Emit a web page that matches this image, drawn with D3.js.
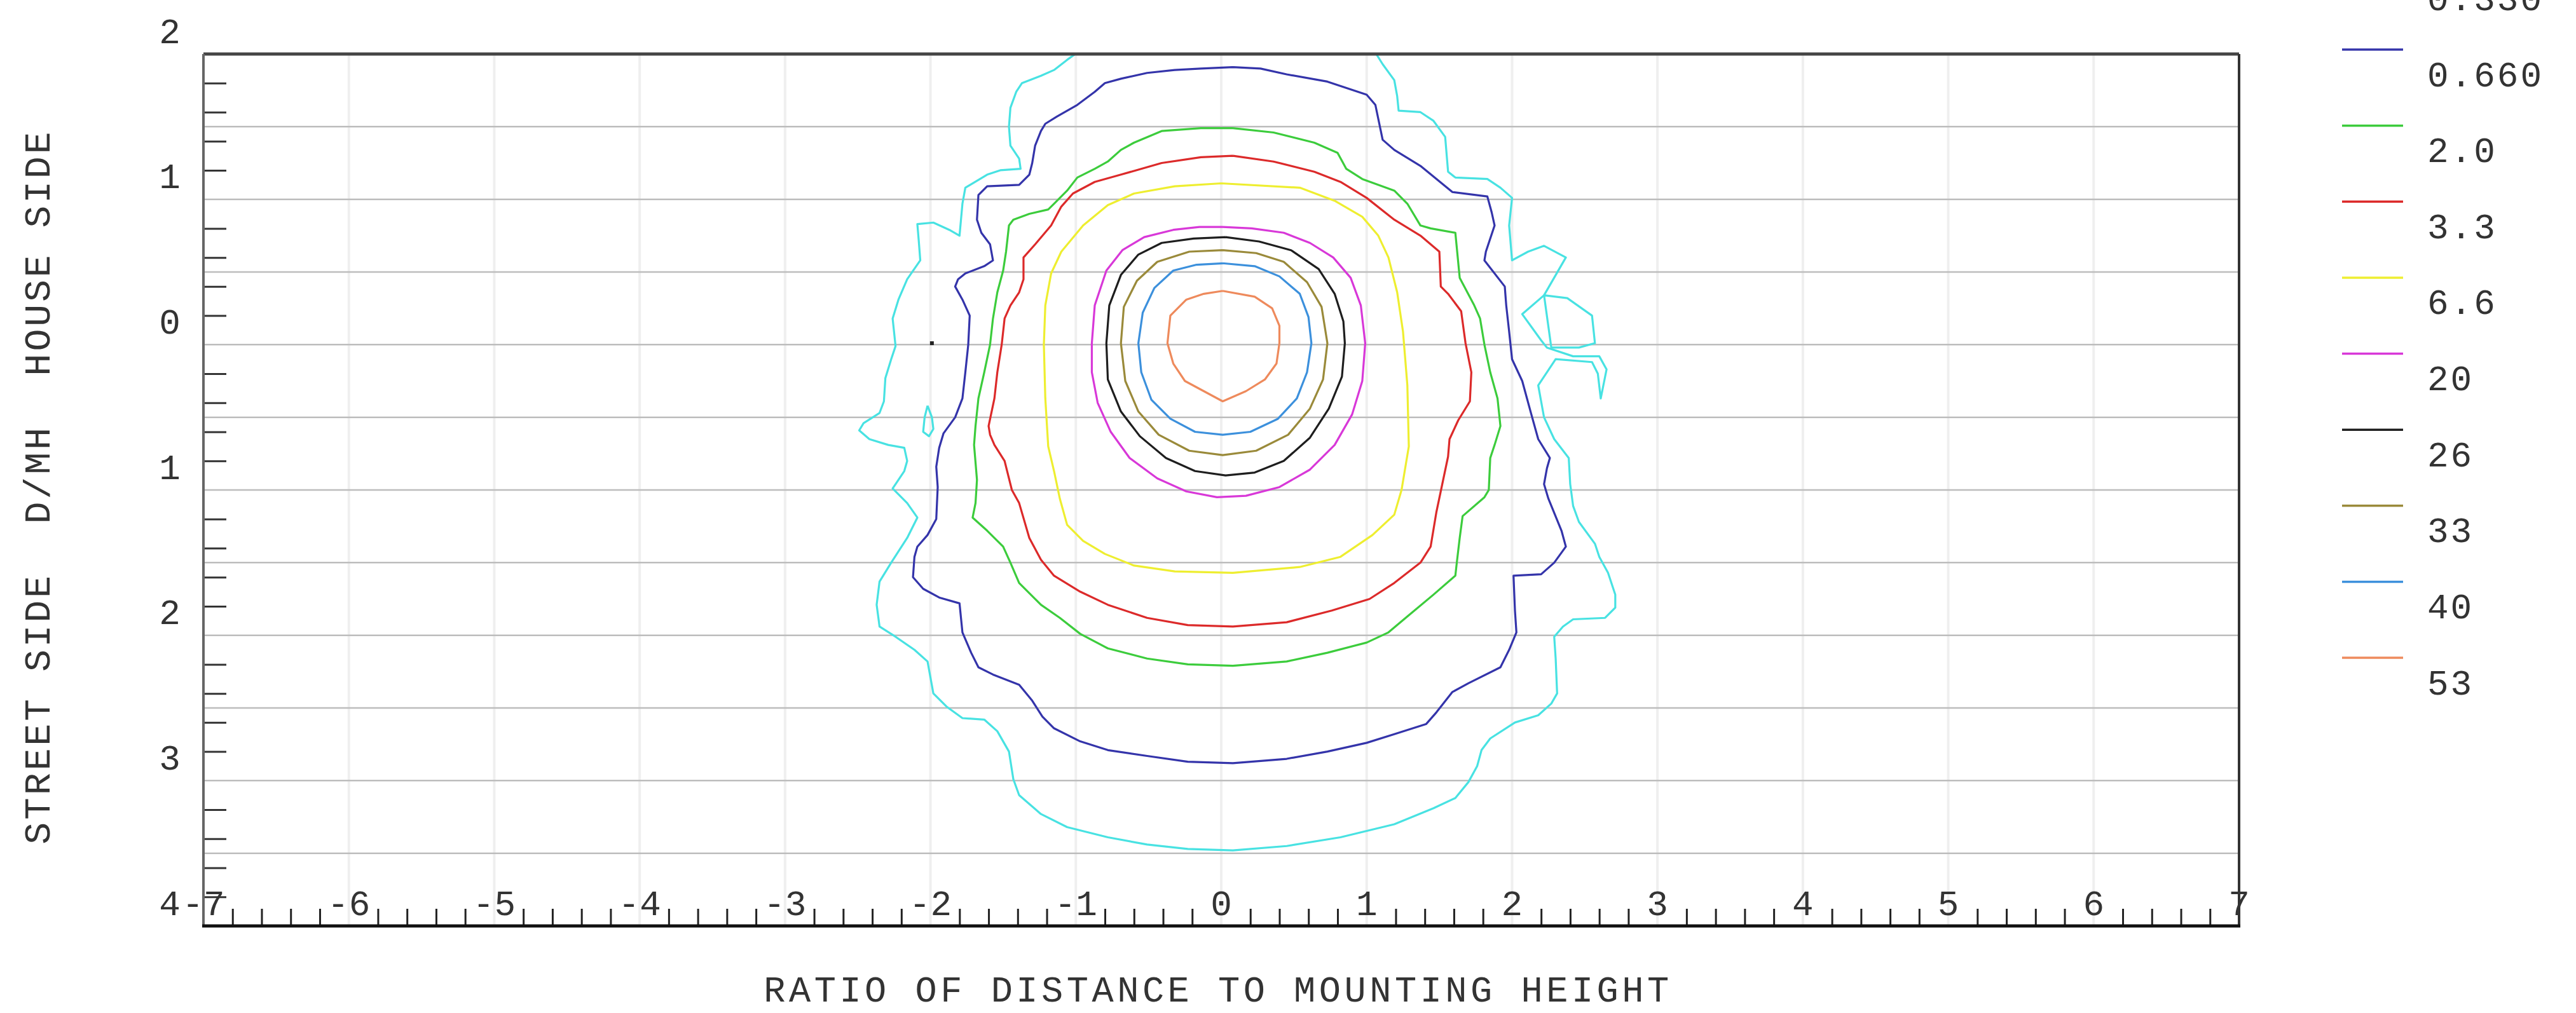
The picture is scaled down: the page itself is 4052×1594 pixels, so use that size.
<!DOCTYPE html>
<html><head><meta charset="utf-8">
<script src="https://cdn.jsdelivr.net/npm/d3@7"></script>
<style>html,body{margin:0;padding:0;background:#fff;overflow:hidden}</style>
</head><body>
<svg id="chart" width="4052" height="1594" xmlns="http://www.w3.org/2000/svg"></svg>
<script>
// ---------- DATA ----------
const levels = ["0.330","0.660","2.0","3.3","6.6","20","26","33","40","53"];
const levelColors = ["#48e2e2","#3434aa","#3ccc3c","#dc2a2a","#eeee30","#d838d8","#1e1e1e","#9a8a3a","#3c90dc","#ee8a5c"];
const xTickValues = [-7,-6,-5,-4,-3,-2,-1,0,1,2,3,4,5,6,7];
const xTickLabels = ["-7","-6","-5","-4","-3","-2","-1","0","1","2","3","4","5","6","7"];
const yTickValues = [2,1,0,-1,-2,-3,-4];
const yTickLabels = ["2","1","0","1","2","3","4"];
const xTitle = "RATIO OF DISTANCE TO MOUNTING HEIGHT";
const yTitle = "STREET SIDE  D/MH  HOUSE SIDE";

// contour polylines, [x, y] in D/MH (y > 0 house side, y < 0 street side)
const c0330 = [[-0.97,2.10],[1.03,2.10],[1.06,2.01],[1.11,1.93],[1.19,1.82],[1.21,1.71],[1.22,1.61],[1.37,1.60],[1.46,1.54],[1.54,1.43],[1.56,1.19],[1.61,1.15],[1.83,1.14],[1.92,1.08],[2.00,1.01],[1.98,0.82],[2.00,0.58],[2.11,0.64],[2.22,0.68],[2.37,0.60],[2.22,0.34],[2.07,0.21],[2.20,0.03],[2.24,-0.02],[2.42,-0.08],[2.60,-0.08],[2.65,-0.17],[2.61,-0.37],[2.59,-0.20],[2.55,-0.12],[2.30,-0.10],[2.18,-0.28],[2.22,-0.50],[2.29,-0.65],[2.39,-0.78],[2.40,-0.96],[2.42,-1.11],[2.46,-1.22],[2.57,-1.37],[2.60,-1.46],[2.66,-1.57],[2.71,-1.72],[2.71,-1.81],[2.64,-1.88],[2.42,-1.89],[2.35,-1.94],[2.29,-2.01],[2.30,-2.16],[2.31,-2.40],[2.27,-2.47],[2.18,-2.55],[2.02,-2.60],[1.85,-2.71],[1.79,-2.79],[1.76,-2.90],[1.70,-3.01],[1.61,-3.12],[1.46,-3.19],[1.19,-3.30],[0.82,-3.39],[0.45,-3.45],[0.08,-3.48],[-0.23,-3.47],[-0.51,-3.44],[-0.78,-3.39],[-1.06,-3.32],[-1.24,-3.23],[-1.39,-3.10],[-1.43,-2.99],[-1.46,-2.80],[-1.54,-2.66],[-1.63,-2.58],[-1.78,-2.57],[-1.89,-2.49],[-1.98,-2.40],[-2.00,-2.29],[-2.02,-2.18],[-2.11,-2.10],[-2.24,-2.01],[-2.35,-1.94],[-2.37,-1.79],[-2.35,-1.63],[-2.27,-1.50],[-2.16,-1.33],[-2.09,-1.19],[-2.16,-1.09],[-2.26,-0.99],[-2.18,-0.87],[-2.16,-0.80],[-2.18,-0.71],[-2.29,-0.69],[-2.42,-0.65],[-2.49,-0.59],[-2.46,-0.54],[-2.35,-0.47],[-2.32,-0.39],[-2.31,-0.23],[-2.27,-0.10],[-2.24,-0.01],[-2.26,0.18],[-2.22,0.31],[-2.16,0.45],[-2.07,0.58],[-2.08,0.71],[-2.09,0.83],[-1.98,0.84],[-1.87,0.79],[-1.80,0.75],[-1.78,0.97],[-1.76,1.08],[-1.61,1.17],[-1.52,1.20],[-1.38,1.21],[-1.39,1.28],[-1.45,1.37],[-1.46,1.50],[-1.45,1.63],[-1.41,1.74],[-1.37,1.80],[-1.24,1.85],[-1.15,1.89],[-1.06,1.96],[-0.99,2.01],[-0.97,2.10]];
const c0330loop = [[2.22,0.34],[2.38,0.32],[2.55,0.20],[2.57,0.01],[2.46,-0.02],[2.27,-0.02]];
const c0330island = [[-2.02,-0.42],[-1.99,-0.50],[-1.98,-0.58],[-2.01,-0.63],[-2.05,-0.60],[-2.04,-0.50],[-2.02,-0.42]];
const c0660 = [[0.08,1.91],[0.27,1.90],[0.45,1.86],[0.73,1.81],[1.00,1.72],[1.06,1.65],[1.11,1.41],[1.19,1.34],[1.37,1.23],[1.59,1.05],[1.83,1.02],[1.86,0.91],[1.88,0.82],[1.82,0.64],[1.81,0.58],[1.95,0.40],[1.96,0.27],[1.98,0.09],[2.00,-0.10],[2.07,-0.25],[2.13,-0.47],[2.18,-0.65],[2.26,-0.78],[2.24,-0.85],[2.22,-0.96],[2.25,-1.06],[2.34,-1.28],[2.37,-1.39],[2.29,-1.50],[2.20,-1.58],[2.01,-1.59],[2.02,-1.83],[2.03,-1.98],[1.98,-2.10],[1.92,-2.22],[1.70,-2.33],[1.59,-2.39],[1.48,-2.53],[1.41,-2.61],[1.19,-2.68],[1.00,-2.74],[0.73,-2.80],[0.45,-2.85],[0.08,-2.88],[-0.23,-2.87],[-0.51,-2.83],[-0.78,-2.79],[-0.97,-2.73],[-1.15,-2.64],[-1.23,-2.56],[-1.30,-2.45],[-1.39,-2.34],[-1.57,-2.27],[-1.67,-2.22],[-1.72,-2.12],[-1.78,-1.98],[-1.80,-1.78],[-1.94,-1.74],[-2.05,-1.68],[-2.12,-1.60],[-2.11,-1.46],[-2.09,-1.39],[-2.02,-1.31],[-1.96,-1.20],[-1.95,-0.98],[-1.96,-0.84],[-1.94,-0.71],[-1.91,-0.61],[-1.83,-0.50],[-1.78,-0.37],[-1.76,-0.19],[-1.74,0.00],[-1.73,0.20],[-1.78,0.31],[-1.83,0.40],[-1.81,0.45],[-1.76,0.49],[-1.63,0.54],[-1.57,0.58],[-1.59,0.69],[-1.65,0.77],[-1.68,0.86],[-1.67,1.03],[-1.61,1.09],[-1.39,1.10],[-1.32,1.17],[-1.30,1.25],[-1.28,1.37],[-1.24,1.47],[-1.21,1.52],[-1.13,1.57],[-0.99,1.65],[-0.87,1.74],[-0.80,1.80],[-0.69,1.83],[-0.51,1.87],[-0.32,1.89],[-0.14,1.90],[0.08,1.91]];
const c2 = [[0.08,1.49],[0.36,1.46],[0.64,1.39],[0.80,1.32],[0.86,1.21],[0.97,1.14],[1.19,1.06],[1.28,0.97],[1.37,0.82],[1.44,0.80],[1.61,0.77],[1.64,0.46],[1.74,0.27],[1.78,0.18],[1.81,0.00],[1.85,-0.19],[1.90,-0.37],[1.92,-0.56],[1.88,-0.69],[1.85,-0.78],[1.84,-1.00],[1.81,-1.05],[1.66,-1.18],[1.64,-1.33],[1.62,-1.50],[1.61,-1.59],[1.46,-1.72],[1.28,-1.87],[1.15,-1.98],[1.00,-2.05],[0.73,-2.12],[0.45,-2.18],[0.08,-2.21],[-0.23,-2.20],[-0.51,-2.16],[-0.78,-2.09],[-0.97,-1.99],[-1.11,-1.88],[-1.24,-1.79],[-1.39,-1.64],[-1.45,-1.50],[-1.50,-1.39],[-1.61,-1.28],[-1.71,-1.19],[-1.69,-1.09],[-1.68,-0.93],[-1.70,-0.69],[-1.69,-0.56],[-1.67,-0.37],[-1.63,-0.19],[-1.59,0.00],[-1.57,0.18],[-1.54,0.36],[-1.50,0.51],[-1.48,0.64],[-1.46,0.82],[-1.43,0.86],[-1.32,0.90],[-1.19,0.93],[-1.15,0.97],[-1.06,1.06],[-0.99,1.15],[-0.87,1.21],[-0.78,1.26],[-0.69,1.34],[-0.60,1.39],[-0.41,1.47],[-0.14,1.49],[0.08,1.49]];
const c33 = [[0.08,1.30],[0.36,1.26],[0.64,1.19],[0.82,1.12],[1.00,1.01],[1.19,0.86],[1.37,0.75],[1.50,0.64],[1.51,0.40],[1.56,0.35],[1.65,0.23],[1.68,0.01],[1.72,-0.19],[1.71,-0.39],[1.63,-0.52],[1.57,-0.65],[1.56,-0.77],[1.52,-0.96],[1.48,-1.15],[1.44,-1.39],[1.37,-1.50],[1.19,-1.64],[1.02,-1.75],[0.76,-1.83],[0.45,-1.91],[0.08,-1.94],[-0.23,-1.93],[-0.51,-1.88],[-0.78,-1.79],[-0.97,-1.70],[-1.15,-1.59],[-1.24,-1.48],[-1.32,-1.33],[-1.39,-1.09],[-1.44,-1.00],[-1.49,-0.80],[-1.56,-0.69],[-1.59,-0.62],[-1.60,-0.56],[-1.56,-0.37],[-1.54,-0.19],[-1.51,0.00],[-1.49,0.18],[-1.45,0.27],[-1.39,0.36],[-1.36,0.45],[-1.36,0.60],[-1.28,0.69],[-1.17,0.82],[-1.10,0.95],[-1.02,1.04],[-0.87,1.12],[-0.69,1.17],[-0.41,1.25],[-0.14,1.29],[0.08,1.30]];
const c66 = [[0.00,1.11],[0.54,1.08],[0.78,0.99],[0.97,0.88],[1.08,0.75],[1.15,0.60],[1.21,0.36],[1.25,0.09],[1.28,-0.28],[1.29,-0.70],[1.24,-1.00],[1.19,-1.17],[1.04,-1.31],[0.82,-1.46],[0.54,-1.53],[0.08,-1.57],[-0.32,-1.56],[-0.60,-1.52],[-0.80,-1.44],[-0.95,-1.35],[-1.06,-1.24],[-1.11,-1.06],[-1.15,-0.87],[-1.19,-0.70],[-1.21,-0.37],[-1.22,0.00],[-1.21,0.27],[-1.17,0.49],[-1.10,0.64],[-0.95,0.82],[-0.78,0.96],[-0.60,1.04],[-0.32,1.09],[0.00,1.11]];
const c20 = [[0.01,0.81],[0.21,0.80],[0.43,0.77],[0.61,0.70],[0.77,0.60],[0.89,0.46],[0.96,0.27],[0.99,0.01],[0.97,-0.25],[0.90,-0.48],[0.78,-0.69],[0.61,-0.86],[0.40,-0.98],[0.17,-1.04],[-0.03,-1.05],[-0.24,-1.01],[-0.44,-0.92],[-0.63,-0.78],[-0.76,-0.60],[-0.85,-0.40],[-0.89,-0.19],[-0.89,0.01],[-0.87,0.27],[-0.79,0.51],[-0.68,0.65],[-0.53,0.74],[-0.33,0.79],[-0.15,0.81],[0.01,0.81]];
const c26 = [[0.03,0.74],[0.26,0.71],[0.48,0.65],[0.67,0.52],[0.78,0.35],[0.84,0.16],[0.85,0.01],[0.83,-0.22],[0.74,-0.44],[0.61,-0.64],[0.43,-0.80],[0.23,-0.88],[0.03,-0.90],[-0.18,-0.87],[-0.38,-0.78],[-0.56,-0.63],[-0.69,-0.46],[-0.78,-0.24],[-0.79,0.01],[-0.77,0.27],[-0.69,0.48],[-0.57,0.62],[-0.41,0.70],[-0.19,0.73],[0.03,0.74]];
const c33b = [[0.01,0.65],[0.24,0.63],[0.43,0.57],[0.59,0.43],[0.69,0.26],[0.73,0.01],[0.70,-0.24],[0.61,-0.44],[0.46,-0.62],[0.24,-0.73],[0.01,-0.76],[-0.22,-0.73],[-0.43,-0.62],[-0.57,-0.46],[-0.66,-0.25],[-0.69,0.01],[-0.67,0.26],[-0.58,0.44],[-0.44,0.57],[-0.22,0.64],[0.01,0.65]];
const c40 = [[0.01,0.56],[0.23,0.54],[0.40,0.47],[0.54,0.35],[0.60,0.19],[0.62,0.01],[0.59,-0.19],[0.52,-0.37],[0.39,-0.51],[0.20,-0.60],[0.01,-0.62],[-0.18,-0.60],[-0.35,-0.51],[-0.48,-0.38],[-0.55,-0.19],[-0.57,0.01],[-0.54,0.22],[-0.46,0.39],[-0.33,0.51],[-0.17,0.55],[0.01,0.56]];
const c53 = [[0.01,0.37],[0.23,0.33],[0.35,0.25],[0.40,0.13],[0.40,0.01],[0.38,-0.13],[0.30,-0.24],[0.17,-0.32],[0.01,-0.39],[-0.12,-0.32],[-0.25,-0.25],[-0.33,-0.13],[-0.37,0.01],[-0.35,0.20],[-0.24,0.31],[-0.12,0.35],[0.01,0.37]];
const markers = [[-1.99,0.01]];

const yGridValues = [1.5,1.0,0.5,0.0,-0.5,-1.0,-1.5,-2.0,-2.5,-3.0,-3.5];
const xGridValues = [-6,-5,-4,-3,-2,-1,0,1,2,3,4,5,6];

const contourSets = [
  {level:0, lines:[c0330, c0330loop, c0330island]},
  {level:1, lines:[c0660]},
  {level:2, lines:[c2]},
  {level:3, lines:[c33]},
  {level:4, lines:[c66]},
  {level:5, lines:[c20]},
  {level:6, lines:[c26]},
  {level:7, lines:[c33b]},
  {level:8, lines:[c40]},
  {level:9, lines:[c53]}
];

// ---------- DRAW ----------
const svg = d3.select("#chart");
const L = 320, R = 3522, T = 85, B = 1457;
const x = d3.scaleLinear().domain([-7,7]).range([L,R]);
const y = d3.scaleLinear().domain([2,-4]).range([T,B]);
const font = "'Liberation Mono', 'DejaVu Sans Mono', monospace";
const txt = "#333";

svg.append("rect").attr("width",4052).attr("height",1594).attr("fill","#fff");

svg.append("defs").append("clipPath").attr("id","plotclip")
  .append("rect").attr("x",L).attr("y",T).attr("width",R-L).attr("height",B-T);

// faint vertical grid
svg.append("g").selectAll("line").data(xGridValues).join("line")
  .attr("x1",d=>x(d)).attr("x2",d=>x(d)).attr("y1",T).attr("y2",B)
  .attr("stroke","#efefef").attr("stroke-width",4);
// horizontal grid
svg.append("g").selectAll("line").data(yGridValues).join("line")
  .attr("x1",L).attr("x2",R).attr("y1",d=>y(d)).attr("y2",d=>y(d))
  .attr("stroke","#bdbdbd").attr("stroke-width",2.5);

// contours
const line = d3.line().x(d=>x(d[0])).y(d=>y(d[1])).curve(d3.curveLinear);
const cg = svg.append("g").attr("clip-path","url(#plotclip)");
contourSets.forEach(s=>{
  s.lines.forEach(pts=>{
    cg.append("path").attr("d", line(pts) + (pts===c0330loop ? "Z" : ""))
      .attr("fill","none").attr("stroke",levelColors[s.level])
      .attr("stroke-width",3.2).attr("stroke-linejoin","round");
  });
});
cg.selectAll("rect.mk").data(markers).join("rect").attr("class","mk")
  .attr("x",d=>x(d[0])-3).attr("y",d=>y(d[1])-3).attr("width",6).attr("height",6).attr("fill","#222");

// minor ticks via axes
const xMinor = d3.range(-35,36).map(k=>k/5).filter(v=>Math.abs(v-Math.round(v))>1e-6);
const yMinor = d3.range(-20,11).map(k=>k/5).filter(v=>Math.abs(v-Math.round(v))>1e-6);
const gx = svg.append("g").attr("transform",`translate(0,${B})`)
  .call(d3.axisBottom(x).tickValues(xMinor).tickSizeInner(-27).tickSizeOuter(0).tickFormat(""));
gx.select(".domain").remove();
gx.selectAll(".tick line").attr("stroke","#222").attr("stroke-width",3);
const gy = svg.append("g").attr("transform",`translate(${L},0)`)
  .call(d3.axisLeft(y).tickValues(yMinor).tickSizeInner(-36).tickSizeOuter(0).tickFormat(""));
gy.select(".domain").remove();
gy.selectAll(".tick line").attr("stroke","#333").attr("stroke-width",3);

// border
svg.append("line").attr("x1",L).attr("x2",R).attr("y1",T).attr("y2",T).attr("stroke","#444").attr("stroke-width",5);
svg.append("line").attr("x1",L).attr("x2",L).attr("y1",T).attr("y2",B).attr("stroke","#666").attr("stroke-width",4);
svg.append("line").attr("x1",R).attr("x2",R).attr("y1",T).attr("y2",B).attr("stroke","#333").attr("stroke-width",4);
svg.append("line").attr("x1",L-2).attr("x2",R+2).attr("y1",B).attr("y2",B).attr("stroke","#111").attr("stroke-width",5);

// tick labels
svg.append("g").selectAll("text").data(xTickValues).join("text")
  .attr("x",d=>x(d)).attr("y",d=>B-37).attr("dy","0.35em")
  .attr("text-anchor","middle").attr("font-family",font).attr("font-size",56).attr("fill",txt)
  .text((d,i)=>xTickLabels[i]);
svg.append("g").selectAll("text").data(yTickValues).join("text")
  .attr("x",267).attr("y",d=>y(d)-37).attr("dy","0.35em")
  .attr("text-anchor","middle").attr("font-family",font).attr("font-size",56).attr("fill",txt)
  .text((d,i)=>yTickLabels[i]);

// axis titles
svg.append("text").attr("x",1916).attr("y",1576)
  .attr("text-anchor","middle").attr("font-family",font).attr("font-size",57)
  .attr("letter-spacing",5.5).attr("fill",txt).text(xTitle);
svg.append("text").attr("transform","translate(58,766) rotate(-90)").attr("dy","0.35em")
  .attr("text-anchor","middle").attr("font-family",font).attr("font-size",58)
  .attr("letter-spacing",4).attr("fill",txt).attr("xml:space","preserve").style("white-space","pre").text(yTitle);

// legend
const ly = d3.scaleLinear().domain([1,9]).range([78,1035]);
const lg = svg.append("g");
levels.forEach((lv,i)=>{
  lg.append("line").attr("x1",3684).attr("x2",3780).attr("y1",ly(i)).attr("y2",ly(i))
    .attr("stroke",levelColors[i]).attr("stroke-width",3.5);
  lg.append("text").attr("x",3818).attr("y",ly(i)+38).attr("dy","0.35em")
    .attr("font-family",font).attr("font-size",56).attr("letter-spacing",3).attr("fill",txt).text(lv);
});
</script>
</body></html>
